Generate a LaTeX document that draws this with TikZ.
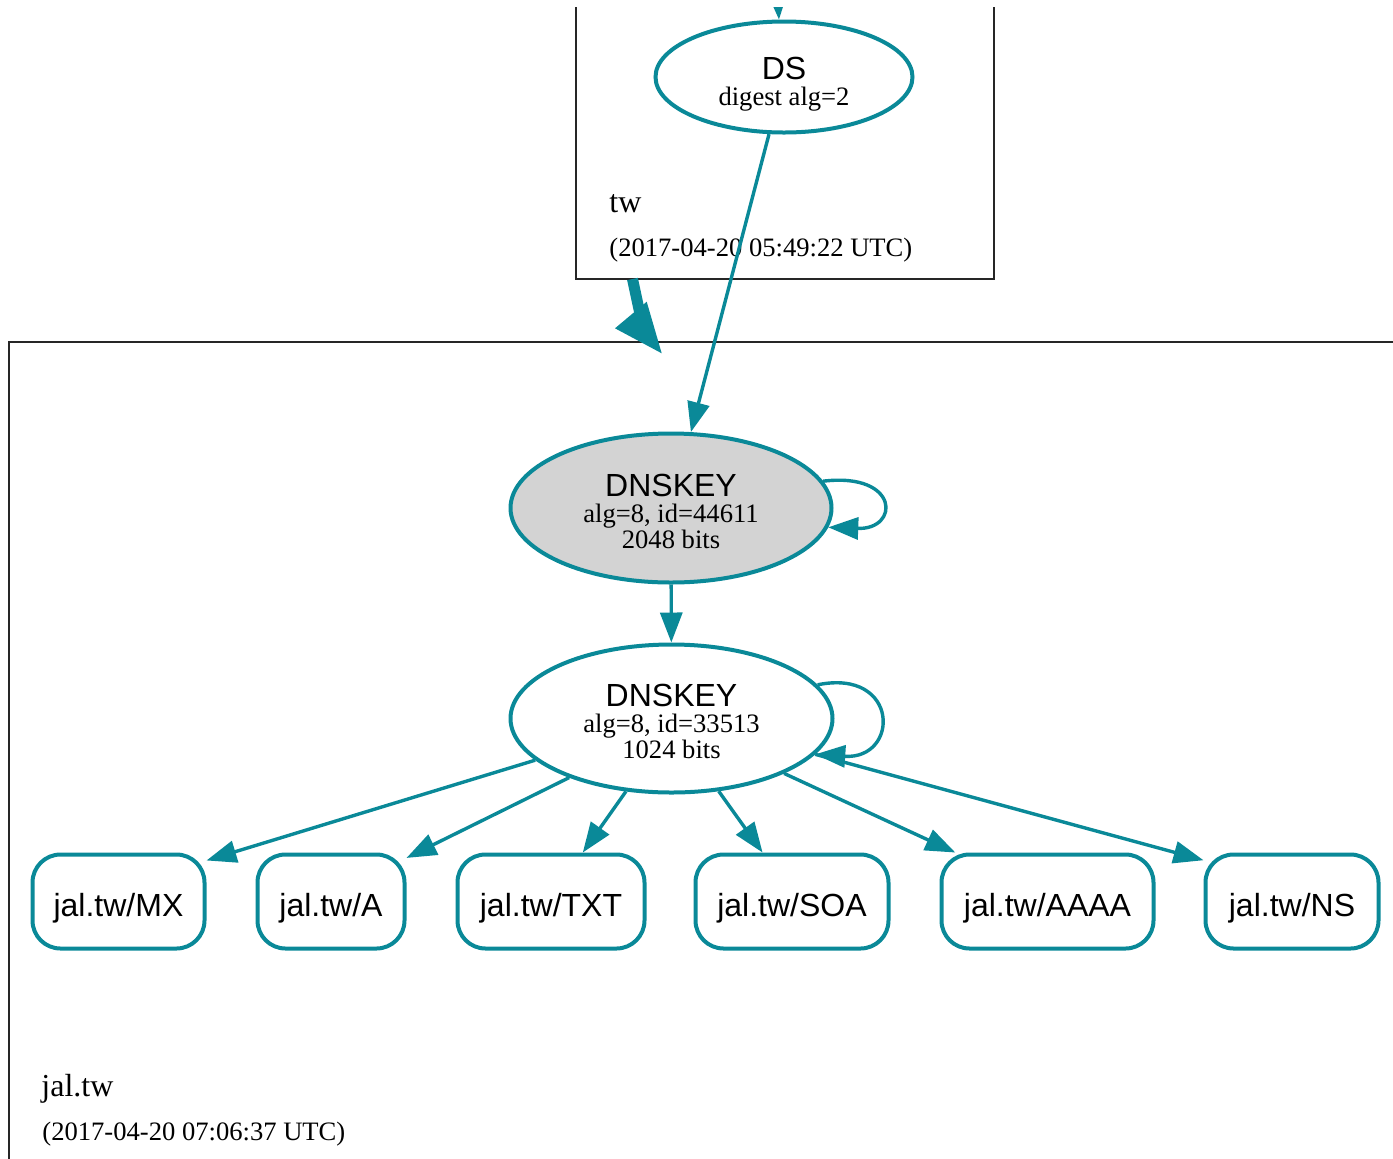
\documentclass[tikz,border=0pt]{standalone}
\usepackage{fontspec}
\setmainfont{Liberation Serif}
\setsansfont{Liberation Sans}
\usetikzlibrary{arrows.meta,shapes.geometric}
\definecolor{dnsteal}{RGB}{10,137,152}
\definecolor{keygray}{RGB}{211,211,211}
\begin{document}
\begin{tikzpicture}[x=0.5pt,y=-0.5pt,
  edge/.style={draw=dnsteal, line width=1.7pt, -{Triangle[length=15pt,width=11pt]}},
  keynode/.style={ellipse, draw=dnsteal, line width=2pt, inner sep=0pt, align=center,
    font=\fontsize{13.3}{13}\selectfont},
  rrnode/.style={rectangle, rounded corners=14pt, draw=dnsteal, line width=2pt, inner sep=0pt,
    font=\sffamily\fontsize{16}{18}\selectfont, text height=14.5pt, text depth=0pt,
    minimum height=47pt},
  zonebox/.style={draw=black!85, line width=0.7pt},
  zonename/.style={anchor=base west, inner sep=0pt, font=\fontsize{16}{18}\selectfont},
  zonedate/.style={anchor=base west, inner sep=0pt, font=\fontsize{13.3}{15}\selectfont}
]
\useasboundingbox (0,0) rectangle (1393,1158);
\begin{scope}
\clip (0,7) rectangle (1393,1158);
% zone boxes
\draw[zonebox] (576,-20) rectangle (994,279);
\draw[zonebox] (9,1200) -- (9,342) -- (1420,342);
% nodes
\node[keynode, minimum width=128.5pt, minimum height=55.5pt, text height=28pt, text depth=0pt]
  (ds) at (784,77) {{\sffamily\fontsize{16}{13}\selectfont DS}\\digest alg=2};
\node[keynode, fill=keygray, minimum width=160.5pt, minimum height=74.5pt, text height=40pt, text depth=0pt]
  (k1) at (671,508) {{\sffamily\fontsize{16}{13}\selectfont DNSKEY}\\alg=8, id=44611\\2048 bits};
\node[keynode, minimum width=161pt, minimum height=74pt, text height=39.5pt, text depth=0pt]
  (k2) at (671.5,718.5) {{\sffamily\fontsize{16}{13}\selectfont DNSKEY}\\alg=8, id=33513\\1024 bits};
\node[rrnode, minimum width=86pt] (rrmx) at (118.5,901.5) {jal.tw/MX};
\node[rrnode, minimum width=73.5pt] (rra) at (331,901.5) {jal.tw/A};
\node[rrnode, minimum width=93.5pt] (rrtxt) at (551,901.5) {jal.tw/TXT};
\node[rrnode, minimum width=96.5pt] (rrsoa) at (792,901.5) {jal.tw/SOA};
\node[rrnode, minimum width=106pt] (rraaaa) at (1047.5,901.5) {jal.tw/AAAA};
\node[rrnode, minimum width=86.5pt] (rrns) at (1292,901.5) {jal.tw/NS};
% labels
\node[zonename] (twname) at (609,212) {tw};
\node[zonedate] (twdate) at (609,256) {(2017-04-20 05:49:22 UTC)};
\node[zonename] (jalname) at (41,1096) {jal.tw};
\node[zonedate] (jaldate) at (42,1140) {(2017-04-20 07:06:37 UTC)};
% edges
\coordinate (dsin) at (777,-15);
\draw[edge] (dsin) -- (ds.95);
\draw[edge] (ds) -- (k1);
\draw[edge] (k1) -- (k2);
\draw[edge] (k1.10) .. controls (900,472) and (900,530) .. (k1.-7);
\draw[edge] (k2.13) .. controls (900,668) and (900,760) .. (k2.-14);
\draw[edge] (k2.-163) -- (rrmx.25);
\draw[edge] (k2.-150.7) -- (rra.30.7);
\draw[edge] (k2.-122.4) -- (rrtxt.57.4);
\draw[edge] (k2.-57) -- (rrsoa.121);
\draw[edge] (k2.-26.6) -- (rraaaa.152.8);
\draw[edge] (k2.-14.5) -- (rrns.155);
% delegation arrow
\coordinate (delstart) at (632.5,279);
\coordinate (deltip) at (661.7,353.3);
\draw[dnsteal, line width=5.5pt] (delstart) -- (640,314);
\fill[dnsteal] (615,328.3) -- (646.7,301.7) -- (deltip) -- cycle;
\end{scope}
\end{tikzpicture}
\end{document}
